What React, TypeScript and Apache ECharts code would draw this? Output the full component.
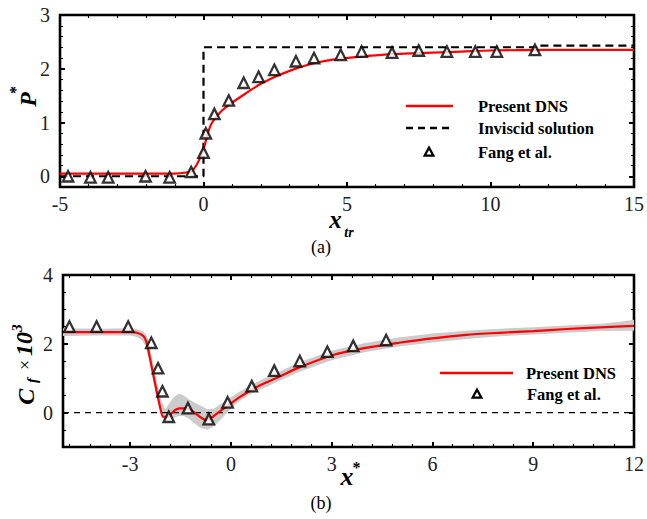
import React, { useEffect, useRef } from 'react';
import * as echarts from 'echarts';

const FONT = 'Liberation Serif, Times New Roman, serif';

// ---------- Panel (a) ----------
const aDnsX = [-5, -1, -0.6, -0.4, -0.2, 0, 0.15, 0.3, 0.6, 1, 1.5, 2, 2.5, 3, 3.5, 4, 4.5, 5, 6, 7, 8, 9, 10, 12, 15];
const aDnsY = [0.05, 0.05, 0.07, 0.1, 0.25, 0.5, 0.8, 1.0, 1.2, 1.37, 1.55, 1.72, 1.85, 1.96, 2.05, 2.12, 2.17, 2.2, 2.25, 2.28, 2.3, 2.32, 2.34, 2.35, 2.35];
const aInvX = [-5, 0, 0, 11.6, 11.6, 15];
const aInvY = [0, 0, 2.4, 2.4, 2.43, 2.43];
const aFangX = [-4.72, -3.94, -3.32, -2.02, -1.18, -0.43, 0.0, 0.08, 0.38, 0.88, 1.4, 1.92, 2.47, 3.22, 3.85, 4.78, 5.51, 6.57, 7.5, 8.48, 9.47, 10.22, 11.55];
const aFangY = [0.0, -0.02, -0.02, 0.0, -0.02, 0.08, 0.44, 0.8, 1.16, 1.41, 1.74, 1.85, 1.98, 2.14, 2.2, 2.26, 2.32, 2.3, 2.34, 2.32, 2.32, 2.32, 2.35];
const aXTicks = [-5, 0, 5, 10, 15];
const aYTicks = [0, 1, 2, 3];

// ---------- Panel (b) ----------
const bDnsX = [-5, -3, -2.8, -2.6, -2.5, -2.42, -2.32, -2.2, -2.1, -2.02, -1.87, -1.72, -1.53, -1.33, -1.12, -0.93, -0.74, -0.54, -0.34, -0.14, 0.26, 0.65, 1, 1.5, 2, 3, 4, 5, 6, 7, 8, 9, 10, 11, 12];
const bDnsY = [2.34, 2.34, 2.32, 2.22, 2.0, 1.62, 1.14, 0.57, 0.12, -0.12, -0.12, 0.03, 0.12, 0.12, 0.03, -0.12, -0.22, -0.12, 0.03, 0.17, 0.45, 0.68, 0.85, 1.07, 1.3, 1.66, 1.88, 2.03, 2.16, 2.26, 2.32, 2.37, 2.43, 2.48, 2.52];
const bBandX = [-5, -4, -3, -2.8, -2.65, -2.55, -2.45, -2.35, -2.25, -2.15, -2.05, -1.95, -1.85, -1.7, -1.55, -1.4, -1.25, -1.1, -0.9, -0.7, -0.5, -0.3, -0.1, 0.2, 0.6, 1, 1.5, 2, 3, 4, 5, 6, 7, 8, 9, 10, 11, 11.6, 12];
const bBandLo = [2.23, 2.24, 2.24, 2.2, 2.1, 1.95, 1.6, 1.1, 0.6, 0.2, -0.15, -0.22, -0.22, -0.15, -0.1, -0.1, -0.18, -0.3, -0.45, -0.5, -0.4, -0.2, 0.02, 0.3, 0.55, 0.72, 0.95, 1.17, 1.52, 1.76, 1.92, 2.04, 2.14, 2.22, 2.27, 2.32, 2.37, 2.38, 2.38];
const bBandHi = [2.45, 2.44, 2.45, 2.43, 2.38, 2.3, 2.1, 1.6, 1.1, 0.65, 0.3, 0.1, 0.25, 0.45, 0.55, 0.5, 0.38, 0.3, 0.2, 0.1, 0.12, 0.25, 0.38, 0.58, 0.8, 1.0, 1.22, 1.45, 1.8, 2.02, 2.18, 2.3, 2.38, 2.44, 2.48, 2.53, 2.58, 2.64, 2.7];
const bFangX = [-4.81, -4.0, -3.06, -2.37, -2.17, -2.04, -1.85, -1.28, -0.66, -0.1, 0.62, 1.29, 2.05, 2.87, 3.64, 4.62];
const bFangY = [2.5, 2.5, 2.5, 2.03, 1.29, 0.62, -0.12, 0.13, -0.19, 0.3, 0.77, 1.22, 1.5, 1.77, 1.94, 2.11];
const bZeroX = [-5, 12];
const bZeroY = [0, 0];
const bXTicks = [-3, 0, 3, 6, 9, 12];
const bYTicks = [0, 2, 4];

function steps(from: number, to: number, step: number, skip: number[]) {
  const out: number[] = [];
  const n = Math.round((to - from) / step);
  for (let i = 0; i <= n; i++) {
    const v = Math.round((from + i * step) * 1000) / 1000;
    if (!skip.some((s) => Math.abs(s - v) < 1e-6)) out.push(v);
  }
  return out;
}

const zip = (xs: number[], ys: number[]) => xs.map((x, i) => [x, ys[i]]);

function buildAxes(dim: 'x' | 'y', gridIndex: number, min: number, max: number, majors: number[], minors: number[], sides: string[]) {
  const axes: any[] = [];
  sides.forEach((side, si) => {
    axes.push({
      type: 'value', gridIndex, position: side, min, max,
      axisLine: { show: false, onZero: false }, splitLine: { show: false },
      axisTick: { show: true, inside: true, length: 5, customValues: majors, lineStyle: { color: '#000', width: 2 } },
      axisLabel: si === 0
        ? { show: true, customValues: majors, color: '#222', fontFamily: FONT, fontSize: 20, margin: dim === 'x' ? 7 : 10 }
        : { show: false },
    });
    axes.push({
      type: 'value', gridIndex, position: side, min, max,
      axisLine: { show: false, onZero: false }, splitLine: { show: false },
      axisTick: { show: true, inside: true, length: 3, customValues: minors, lineStyle: { color: '#000', width: 1.1 } },
      axisLabel: { show: false },
    });
  });
  return axes;
}

const boldItalic = (text: string, size: number, x: number, y: number, extra: any = {}) => ({
  type: 'text', x, y,
  style: { text, fontFamily: FONT, fontSize: size, fontWeight: 'bold', fontStyle: 'italic', fill: '#000', align: 'center', verticalAlign: 'middle', ...extra },
});
const plain = (text: string, size: number, x: number, y: number, extra: any = {}) => ({
  type: 'text', x, y,
  style: { text, fontFamily: FONT, fontSize: size, fill: '#000', align: 'center', verticalAlign: 'middle', ...extra },
});
const legendText = (text: string, x: number, y: number) => ({
  type: 'text', x, y,
  style: { text, fontFamily: FONT, fontSize: 16.5, fontWeight: 'bold', fill: '#000', align: 'left', verticalAlign: 'middle' },
});
const tri = (cx: number, cy: number, s: number) => ({
  type: 'polygon',
  shape: { points: [[cx, cy - s * 0.55], [cx + s * 0.55, cy + s * 0.45], [cx - s * 0.55, cy + s * 0.45]] },
  style: { fill: '#fff', stroke: '#000', lineWidth: 2.2 },
});

export default function App() {
  const ref = useRef<HTMLDivElement>(null);
  useEffect(() => {
    if (!ref.current) return;
    const chart = echarts.init(ref.current, undefined, { renderer: 'svg' });
    const xAxis = [
      ...buildAxes('x', 0, -5, 15, aXTicks, steps(-5, 15, 1, aXTicks), ['bottom', 'top']),
      ...buildAxes('x', 1, -5, 12, bXTicks, steps(-4.8, 12, 0.6, bXTicks), ['bottom', 'top']),
    ];
    const yAxis = [
      ...buildAxes('y', 0, -0.2, 3, aYTicks, steps(0.2, 2.8, 0.2, aYTicks), ['left', 'right']),
      ...buildAxes('y', 1, -1, 4, bYTicks, steps(-0.5, 3.5, 0.5, bYTicks), ['left', 'right']),
    ];
    const option: any = {
      animation: false,
      backgroundColor: '#fff',
      grid: [
        { left: 60, top: 15, width: 576, height: 172, show: true, borderColor: '#000', borderWidth: 2.6, backgroundColor: 'transparent' },
        { left: 63, top: 275, width: 573, height: 172, show: true, borderColor: '#000', borderWidth: 2.6, backgroundColor: 'transparent' },
      ],
      xAxis,
      yAxis,
      series: [
        {
          type: 'custom', name: 'band', xAxisIndex: 4, yAxisIndex: 4, silent: true, clip: true, z: 1,
          data: [[bBandX[0], bBandLo[0]]],
          renderItem: (params: any, api: any) => {
            if (params.dataIndex !== 0) return null;
            const pts: number[][] = [];
            for (let i = 0; i < bBandX.length; i++) pts.push(api.coord([bBandX[i], bBandHi[i]]));
            for (let i = bBandX.length - 1; i >= 0; i--) pts.push(api.coord([bBandX[i], bBandLo[i]]));
            return { type: 'polygon', shape: { points: pts }, style: { fill: '#cbcbcb' } };
          },
        },
        {
          type: 'line', name: 'zero', xAxisIndex: 4, yAxisIndex: 4, data: zip(bZeroX, bZeroY), symbol: 'none', silent: true, z: 2,
          lineStyle: { color: '#000', width: 1.2, type: [6, 5] },
        },
        {
          type: 'line', name: 'Present DNS', xAxisIndex: 4, yAxisIndex: 4, data: zip(bDnsX, bDnsY), symbol: 'none', smooth: 0.25, z: 3,
          lineStyle: { color: '#ff0000', width: 2.2 },
        },
        {
          type: 'scatter', name: 'Fang et al.', xAxisIndex: 4, yAxisIndex: 4, data: zip(bFangX, bFangY), symbol: 'triangle', symbolSize: 10.5, z: 4,
          itemStyle: { color: '#fff', borderColor: '#000', borderWidth: 2.3 },
        },
        {
          type: 'line', name: 'Inviscid solution', xAxisIndex: 0, yAxisIndex: 0, data: zip(aInvX, aInvY), symbol: 'none', z: 2,
          lineStyle: { color: '#000', width: 2.2, type: [8, 5] },
        },
        {
          type: 'line', name: 'Present DNS', xAxisIndex: 0, yAxisIndex: 0, data: zip(aDnsX, aDnsY), symbol: 'none', smooth: 0.3, z: 3,
          lineStyle: { color: '#ff0000', width: 2.2 },
        },
        {
          type: 'scatter', name: 'Fang et al.', xAxisIndex: 0, yAxisIndex: 0, data: zip(aFangX, aFangY), symbol: 'triangle', symbolSize: 10.5, z: 4,
          itemStyle: { color: '#fff', borderColor: '#000', borderWidth: 2.3 },
        },
      ],
      graphic: [
        // Panel (a) legend
        { type: 'line', shape: { x1: 406, y1: 106, x2: 453, y2: 106 }, style: { stroke: '#ff0000', lineWidth: 2.5 } },
        { type: 'line', shape: { x1: 406, y1: 128, x2: 453, y2: 128 }, style: { stroke: '#000', lineWidth: 2.5, lineDash: [7, 5] } },
        tri(429, 152, 8),
        legendText('Present DNS', 478, 106),
        legendText('Inviscid solution', 478, 128),
        legendText('Fang et al.', 478, 152),
        // Panel (b) legend
        { type: 'line', shape: { x1: 440, y1: 373, x2: 513, y2: 373 }, style: { stroke: '#ff0000', lineWidth: 2.5 } },
        tri(477, 394, 8),
        legendText('Present DNS', 526, 373),
        legendText('Fang et al.', 527, 394),
        // x titles
        boldItalic('x', 25, 335.5, 219),
        boldItalic('tr', 14, 349, 232),
        boldItalic('x', 26, 347, 476),
        plain('*', 16, 356.5, 467, { fontWeight: 'bold' }),
        // panel labels
        plain('(a)', 18, 321, 247),
        plain('(b)', 18, 321, 503),
        // y titles (rotated)
        {
          type: 'group', x: 0, y: 0, rotation: Math.PI / 2,
          children: [
            boldItalic('P', 24, -99.5, 27.5),
            plain('*', 16, -90, 15, { fontWeight: 'bold' }),
          ],
        },
        {
          type: 'group', x: 0, y: 0, rotation: Math.PI / 2,
          children: [
            boldItalic('C', 24, -396.7, 26),
            boldItalic('f', 15, -380.5, 32),
            plain('×', 18, -365, 25),
            boldItalic('10', 24, -344, 24),
            boldItalic('3', 15, -328, 16.5),
          ],
        },
      ],
    };
    chart.setOption(option);
    return () => chart.dispose();
  }, []);
  return <div ref={ref} style={{ position: 'fixed', left: 0, top: 0, width: 647, height: 519, background: '#fff' }} />;
}
